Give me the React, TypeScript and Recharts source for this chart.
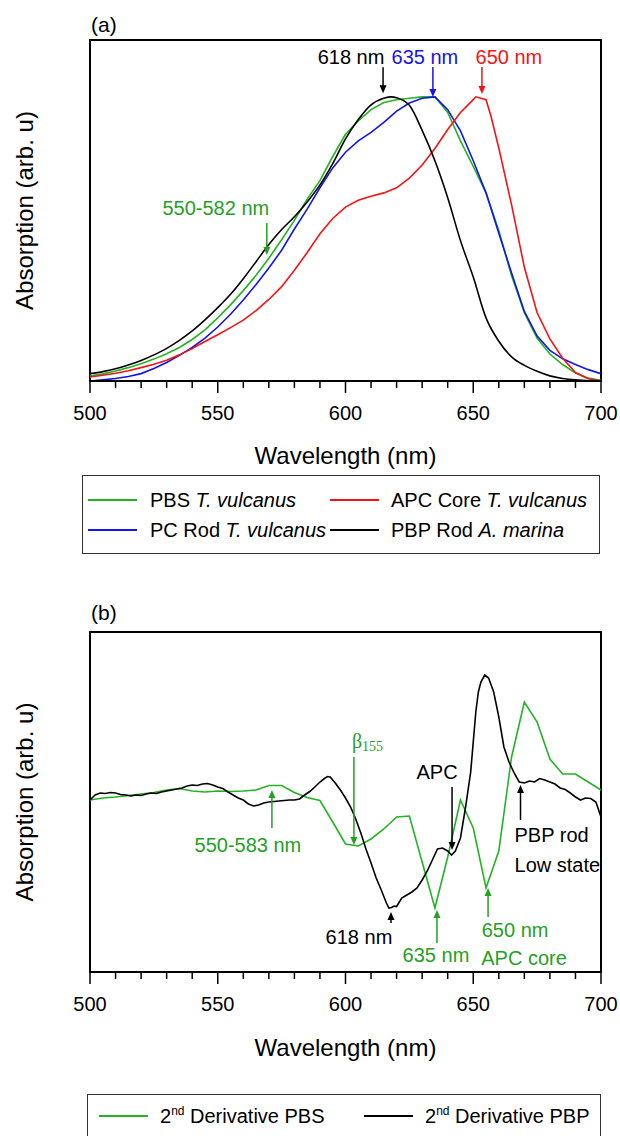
import React from 'react';
import { LineChart, Line, XAxis, YAxis, ReferenceDot, ReferenceArea, Label } from 'recharts';

const FONT = 'Arial, "Liberation Sans", Helvetica, sans-serif';
const GREEN = '#22b422';
const GREEN_TXT = '#25a025';
const BLUE = '#1414ee';
const RED = '#f41414';
const BLACK = '#000000';

// ---- panel (a): normalised absorption spectra ----
const wl5 = [500, 505, 510, 515, 520, 525, 530, 535, 540, 545, 550, 555, 560, 565, 570, 575, 580, 585, 590, 595, 600, 605, 610, 615, 620, 625, 630, 635, 640, 645, 650, 655, 660, 665, 670, 675, 680, 685, 690, 695, 700];
const absPBS = [0.017, 0.025, 0.035, 0.047, 0.061, 0.077, 0.096, 0.118, 0.146, 0.18, 0.222, 0.268, 0.318, 0.372, 0.432, 0.497, 0.565, 0.64, 0.705, 0.79, 0.868, 0.915, 0.955, 0.98, 0.99, 0.995, 1.0, 1.0, 0.945, 0.845, 0.755, 0.662, 0.53, 0.37, 0.24, 0.15, 0.095, 0.058, 0.028, 0.01, 0.002];
const absPC = [0.0, 0.004, 0.009, 0.016, 0.026, 0.044, 0.065, 0.09, 0.118, 0.151, 0.19, 0.235, 0.285, 0.34, 0.398, 0.46, 0.535, 0.605, 0.68, 0.75, 0.805, 0.845, 0.875, 0.91, 0.95, 0.978, 0.995, 1.0, 0.955, 0.88, 0.775, 0.662, 0.52, 0.38, 0.245, 0.158, 0.108, 0.078, 0.058, 0.04, 0.026];
const wlAPC = [500, 505, 510, 515, 520, 525, 530, 535, 540, 545, 550, 555, 560, 565, 570, 575, 580, 585, 590, 595, 600, 605, 610, 615, 620, 625, 630, 635, 640, 645, 650, 651, 655, 657, 660, 665, 670, 675, 680, 685, 690, 695, 700];
const absAPC = [0.014, 0.02, 0.027, 0.036, 0.047, 0.059, 0.073, 0.092, 0.114, 0.139, 0.163, 0.188, 0.214, 0.248, 0.287, 0.332, 0.39, 0.452, 0.518, 0.572, 0.612, 0.636, 0.65, 0.662, 0.68, 0.714, 0.76, 0.818, 0.885, 0.945, 0.99, 1.0, 0.99, 0.93, 0.82, 0.62, 0.4, 0.24, 0.148, 0.08, 0.03, 0.008, 0.0];
const wlRod = [500, 505, 510, 515, 520, 525, 530, 535, 540, 545, 550, 555, 560, 565, 570, 575, 580, 585, 590, 595, 600, 605, 610, 615, 618, 620, 625, 630, 635, 640, 645, 650, 655, 660, 665, 670, 675, 680, 685, 690, 695, 700];
const absRod = [0.026, 0.033, 0.043, 0.056, 0.072, 0.092, 0.115, 0.143, 0.176, 0.215, 0.258, 0.305, 0.36, 0.42, 0.48, 0.533, 0.578, 0.63, 0.69, 0.765, 0.852, 0.92, 0.972, 0.995, 1.0, 0.997, 0.97, 0.882, 0.775, 0.645, 0.494, 0.366, 0.222, 0.14, 0.085, 0.055, 0.034, 0.018, 0.009, 0.004, 0.001, 0.0];

// ---- panel (b): second derivatives ----
const d2PBS = [0.02, 0.04, 0.05, 0.065, 0.08, 0.095, 0.12, 0.135, 0.11, 0.1, 0.11, 0.105, 0.11, 0.12, 0.165, 0.165, 0.095, 0.045, 0.015, -0.2, -0.42, -0.44, -0.37, -0.27, -0.15, -0.14, -0.6, -1.06, -0.55, 0.02, -0.26, -0.86, -0.49, 0.45, 1.0, 0.8, 0.43, 0.28, 0.28, 0.2, 0.12];
const wlPBP = [500, 502, 504, 506, 508, 510, 512, 514, 516, 518, 520, 522, 524, 526, 528, 530, 532, 534, 536, 538, 540, 542, 544, 546, 548, 550, 552, 554, 556, 558, 560, 562, 564, 566, 568, 570, 572, 574, 576, 578, 580, 582, 584, 586, 588, 590, 592, 593, 594, 596, 598, 600, 602, 604, 606, 608, 610, 612, 614, 616, 617, 618, 619, 620, 622, 624, 626, 628, 630, 632, 634, 636, 638, 640, 641.5, 643, 645, 647, 649, 650, 651, 652, 653, 654.5, 656, 658, 660, 662, 664, 666, 668, 670, 672, 674, 676, 678, 680, 682, 684, 686, 688, 690, 692, 694, 696, 698, 700];
const d2PBP = [0.02, 0.07, 0.09, 0.085, 0.095, 0.09, 0.075, 0.07, 0.06, 0.07, 0.065, 0.08, 0.09, 0.085, 0.1, 0.11, 0.12, 0.13, 0.14, 0.16, 0.17, 0.165, 0.18, 0.185, 0.17, 0.15, 0.135, 0.1, 0.07, 0.04, 0.02, -0.02, -0.04, -0.03, -0.01, 0.0, 0.005, 0.01, 0.015, 0.02, 0.02, 0.03, 0.07, 0.105, 0.15, 0.2, 0.24, 0.255, 0.25, 0.19, 0.12, 0.04, -0.05, -0.17, -0.31, -0.47, -0.61, -0.76, -0.88, -1.01, -1.06, -1.055, -1.04, -1.045, -0.96, -0.93, -0.9, -0.86, -0.78, -0.69, -0.58, -0.47, -0.46, -0.49, -0.53, -0.49, -0.36, -0.05, 0.3, 0.6, 0.9, 1.1, 1.2, 1.27, 1.24, 1.1, 0.85, 0.55, 0.4, 0.29, 0.2, 0.19, 0.21, 0.2, 0.235, 0.22, 0.2, 0.18, 0.14, 0.125, 0.09, 0.05, 0.02, 0.04, 0.035, 0.0, -0.15];

const ticks = [500, 510, 520, 530, 540, 550, 560, 570, 580, 590, 600, 610, 620, 630, 640, 650, 660, 670, 680, 690, 700];

const zip = (xs: number[], ys: number[]) => xs.map((x, i) => ({ x, v: ys[i] }));

const seriesA = [
  { name: 'PBS', sp: 'T. vulcanus', color: GREEN, curve: 'linear', data: zip(wl5, absPBS) },
  { name: 'PC Rod', sp: 'T. vulcanus', color: BLUE, curve: 'linear', data: zip(wl5, absPC) },
  { name: 'APC Core', sp: 'T. vulcanus', color: RED, curve: 'linear', data: zip(wlAPC, absAPC) },
  { name: 'PBP Rod', sp: 'A. marina', color: BLACK, curve: 'monotone', data: zip(wlRod, absRod) },
];
const seriesB = [
  { name: 'PBS', color: GREEN, curve: 'linear', data: zip(wl5, d2PBS) },
  { name: 'PBP', color: BLACK, curve: 'linear', data: zip(wlPBP, d2PBP) },
];

type Txt = { t: React.ReactNode; dx: number; dy: number; anchor?: string; serif?: boolean };
type Ann = { x: number; y: number; len: number; dir: 'up' | 'down'; color: string; texts: Txt[] };

const beta = (
  <>
    <tspan>β</tspan>
    <tspan fontSize={14} dy={5}>155</tspan>
  </>
);

const annA: Ann[] = [
  { x: 614.7, y: 1.013, len: 26, dir: 'down', color: BLACK, texts: [{ t: '618 nm', dx: -32, dy: -36 }] },
  { x: 634.2, y: 0.999, len: 30, dir: 'down', color: BLUE, texts: [{ t: '635 nm', dx: -8, dy: -40 }] },
  { x: 653.4, y: 1.01, len: 27, dir: 'down', color: RED, texts: [{ t: '650 nm', dx: 27, dy: -37 }] },
  { x: 569.2, y: 0.443, len: 32, dir: 'down', color: GREEN_TXT, texts: [{ t: '550-582 nm', dx: -51, dy: -47 }] },
];
const annB: Ann[] = [
  { x: 603.3, y: -0.43, len: 88, dir: 'down', color: GREEN_TXT, texts: [{ t: beta, dx: -2, dy: -104, anchor: 'start', serif: true }] },
  { x: 571.2, y: 0.12, len: 38, dir: 'up', color: GREEN_TXT, texts: [{ t: '550-583 nm', dx: -24, dy: 55 }] },
  { x: 641.7, y: -0.48, len: 63, dir: 'down', color: BLACK, texts: [{ t: 'APC', dx: -15, dy: -78 }] },
  { x: 617.8, y: -1.1, len: 11, dir: 'up', color: BLACK, texts: [{ t: '618 nm', dx: -32, dy: 25 }] },
  { x: 635.8, y: -1.08, len: 33, dir: 'up', color: GREEN_TXT, texts: [{ t: '635 nm', dx: -1, dy: 45 }] },
  { x: 655.8, y: -0.86, len: 29, dir: 'up', color: GREEN_TXT, texts: [{ t: '650 nm', dx: 27, dy: 42 }, { t: 'APC core', dx: 36, dy: 70 }] },
  { x: 668.5, y: 0.17, len: 35, dir: 'up', color: BLACK, texts: [{ t: 'PBP rod', dx: -6, dy: 50, anchor: 'start' }, { t: 'Low state', dx: -6, dy: 80, anchor: 'start' }] },
];

const Arrow = ({ cx, cy, a }: any) => {
  const s = a.dir === 'down' ? -1 : 1;
  const head = 8;
  return (
    <g>
      <line x1={cx} x2={cx} y1={cy + s * a.len} y2={cy + s * head * 0.7} stroke={a.color} strokeWidth={1.5} />
      <path d={`M${cx},${cy} L${cx - 3.5},${cy + s * head} L${cx + 3.5},${cy + s * head} Z`} fill={a.color} />
      {a.texts.map((t: Txt, i: number) => (
        <text
          key={i}
          x={cx + t.dx}
          y={cy + t.dy}
          textAnchor={t.anchor || 'middle'}
          dominantBaseline="central"
          fontSize={20}
          fontFamily={t.serif ? '"Liberation Serif", "Times New Roman", serif' : FONT}
          fill={a.color}
        >
          {t.t}
        </text>
      ))}
    </g>
  );
};

const renderTick = (props: any) => {
  const { x, y, payload } = props;
  const major = payload.value % 50 === 0;
  return (
    <g>
      <line x1={x} x2={x} y1={y} y2={y + (major ? 12 : 7)} stroke="#000" strokeWidth={1.5} />
      {major && (
        <text x={x} y={y + 32} textAnchor="middle" dominantBaseline="central" fontSize={20} fontFamily={FONT} fill="#000">
          {payload.value}
        </text>
      )}
    </g>
  );
};

function Panel({ series, anns, yDomain, axisH }: { series: any[]; anns: Ann[]; yDomain: number[]; axisH: number }) {
  return (
    <LineChart width={620} height={470} margin={{ top: 40, right: 19, bottom: 0, left: 90 }}>
      <XAxis
        dataKey="x"
        type="number"
        domain={[500, 700]}
        ticks={ticks}
        interval={0}
        tick={renderTick}
        tickLine={false}
        tickSize={0}
        tickMargin={0}
        height={axisH}
        axisLine={{ stroke: '#000', strokeWidth: 2 }}
        allowDataOverflow
      >
        <Label value="Wavelength (nm)" position="center" dy={30} fontSize={24} fontFamily={FONT} fill="#000" />
      </XAxis>
      <YAxis hide type="number" domain={yDomain} allowDataOverflow />
      <ReferenceArea x1={500} x2={700} y1={yDomain[0]} y2={yDomain[1]} fill="none" fillOpacity={0} stroke="#000" strokeWidth={2} ifOverflow="visible">
        <Label value="Absorption (arb. u)" position="center" angle={-90} dx={-321} fontSize={24} fontFamily={FONT} fill="#000" />
      </ReferenceArea>
      {series.map((s) => (
        <Line
          key={s.name}
          data={s.data}
          dataKey="v"
          type={s.curve}
          stroke={s.color}
          strokeWidth={1.6}
          dot={false}
          isAnimationActive={false}
        />
      ))}
      {anns.map((a, i) => (
        <ReferenceDot key={i} x={a.x} y={a.y} r={0} ifOverflow="visible" shape={(p: any) => <Arrow cx={p.cx} cy={p.cy} a={a} />} />
      ))}
    </LineChart>
  );
}

const LegendLine = ({ color, left, top }: { color: string; left: number; top: number }) => (
  <div style={{ position: 'absolute', left, top: top - 1, width: 49, height: 0, borderTop: `2px solid ${color}` }} />
);

const legText = (left: number, top: number, content: React.ReactNode) => (
  <div style={{ position: 'absolute', left, top: top - 12, fontSize: 20, lineHeight: '24px', whiteSpace: 'nowrap', color: '#000' }}>{content}</div>
);

export default function App() {
  const [pbs, pc, apc, rod] = seriesA;
  return (
    <div style={{ position: 'absolute', left: 0, top: 0, width: 620, height: 1136, overflow: 'hidden', background: '#fff', fontFamily: FONT }}>
      <div style={{ position: 'absolute', left: 91, top: 13, fontSize: 21, lineHeight: '24px' }}>(a)</div>
      <div style={{ position: 'absolute', left: 0, top: 0 }}>
        <Panel series={seriesA} anns={annA} yDomain={[0, 1.2]} axisH={89} />
      </div>
      <div style={{ position: 'absolute', left: 82, top: 475, width: 516, height: 77, border: '1px solid #333' }}>
        <LegendLine color={pbs.color} left={5} top={24} />
        {legText(67, 24, <>{pbs.name} <i>{pbs.sp}</i></>)}
        <LegendLine color={apc.color} left={247} top={24} />
        {legText(308, 24, <>{apc.name} <i>{apc.sp}</i></>)}
        <LegendLine color={pc.color} left={5} top={54} />
        {legText(67, 54, <>{pc.name} <i>{pc.sp}</i></>)}
        <LegendLine color={rod.color} left={247} top={54} />
        {legText(308, 54, <>{rod.name} <i>{rod.sp}</i></>)}
      </div>

      <div style={{ position: 'absolute', left: 91, top: 601, fontSize: 21, lineHeight: '24px' }}>(b)</div>
      <div style={{ position: 'absolute', left: 0, top: 592 }}>
        <Panel series={seriesB} anns={annB} yDomain={[-1.7, 1.7]} axisH={90} />
      </div>
      <div style={{ position: 'absolute', left: 87, top: 1094, width: 512, height: 60, border: '1px solid #333' }}>
        {seriesB.map((s, i) => (
          <React.Fragment key={s.name}>
            <LegendLine color={s.color} left={i === 0 ? 11 : 276} top={21} />
            {legText(i === 0 ? 72 : 337, 21, <>2<span style={{ fontSize: 12, verticalAlign: 'top', lineHeight: '14px' }}>nd</span> Derivative {s.name}</>)}
          </React.Fragment>
        ))}
      </div>
    </div>
  );
}
